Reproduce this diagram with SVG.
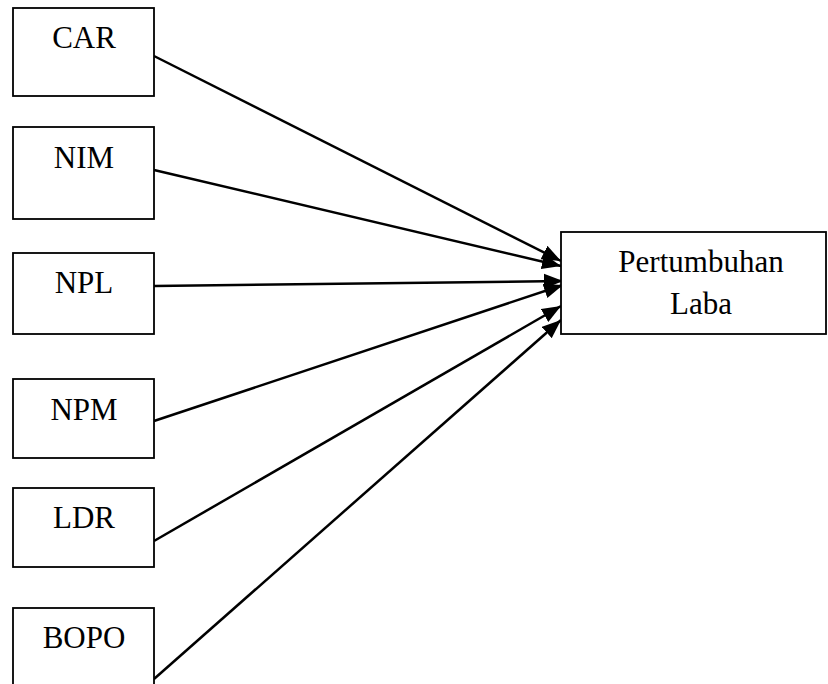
<svg xmlns="http://www.w3.org/2000/svg" width="828" height="684" viewBox="0 0 828 684">
<style>
.box{fill:#fff;stroke:#000;stroke-width:1.8}
.t{font-family:"Liberation Serif","Times New Roman",serif;font-size:31px;fill:#000;text-anchor:middle}
.c{stroke:#000;stroke-width:2.5;fill:none;marker-end:url(#ah)}
</style>
<defs>
<marker id="ah" markerUnits="userSpaceOnUse" markerWidth="20" markerHeight="16" refX="19" refY="7.5" orient="auto" viewBox="0 0 20 15">
<path d="M0,0 L19,7.5 L0,15 z" fill="#000"/>
</marker>
</defs>
<rect width="828" height="684" fill="#fff"/>
<g id="connectors">
<line class="c" x1="154" y1="56" x2="561" y2="261"/>
<line class="c" x1="154" y1="170" x2="561" y2="266"/>
<line class="c" x1="154" y1="286" x2="563" y2="281"/>
<line class="c" x1="154" y1="421" x2="563" y2="285"/>
<line class="c" x1="154" y1="541" x2="561" y2="306"/>
<line class="c" x1="154" y1="679" x2="561" y2="320"/>
</g>
<g id="car"><rect class="box" x="13" y="8" width="141" height="88"/><text class="t" x="84" y="48">CAR</text></g>
<g id="nim"><rect class="box" x="13" y="127" width="141" height="92"/><text class="t" x="84" y="168">NIM</text></g>
<g id="npl"><rect class="box" x="13" y="253" width="141" height="81"/><text class="t" x="84" y="293">NPL</text></g>
<g id="npm"><rect class="box" x="13" y="379" width="141" height="79"/><text class="t" x="84" y="420">NPM</text></g>
<g id="ldr"><rect class="box" x="13" y="488" width="141" height="79"/><text class="t" x="84" y="528">LDR</text></g>
<g id="bopo"><rect class="box" x="13" y="608" width="141" height="90"/><text class="t" x="84" y="648">BOPO</text></g>
<g id="pertumbuhan"><rect class="box" x="561" y="232" width="265" height="102"/><text class="t" x="701" y="272">Pertumbuhan</text><text class="t" x="701" y="314">Laba</text></g>
</svg>
